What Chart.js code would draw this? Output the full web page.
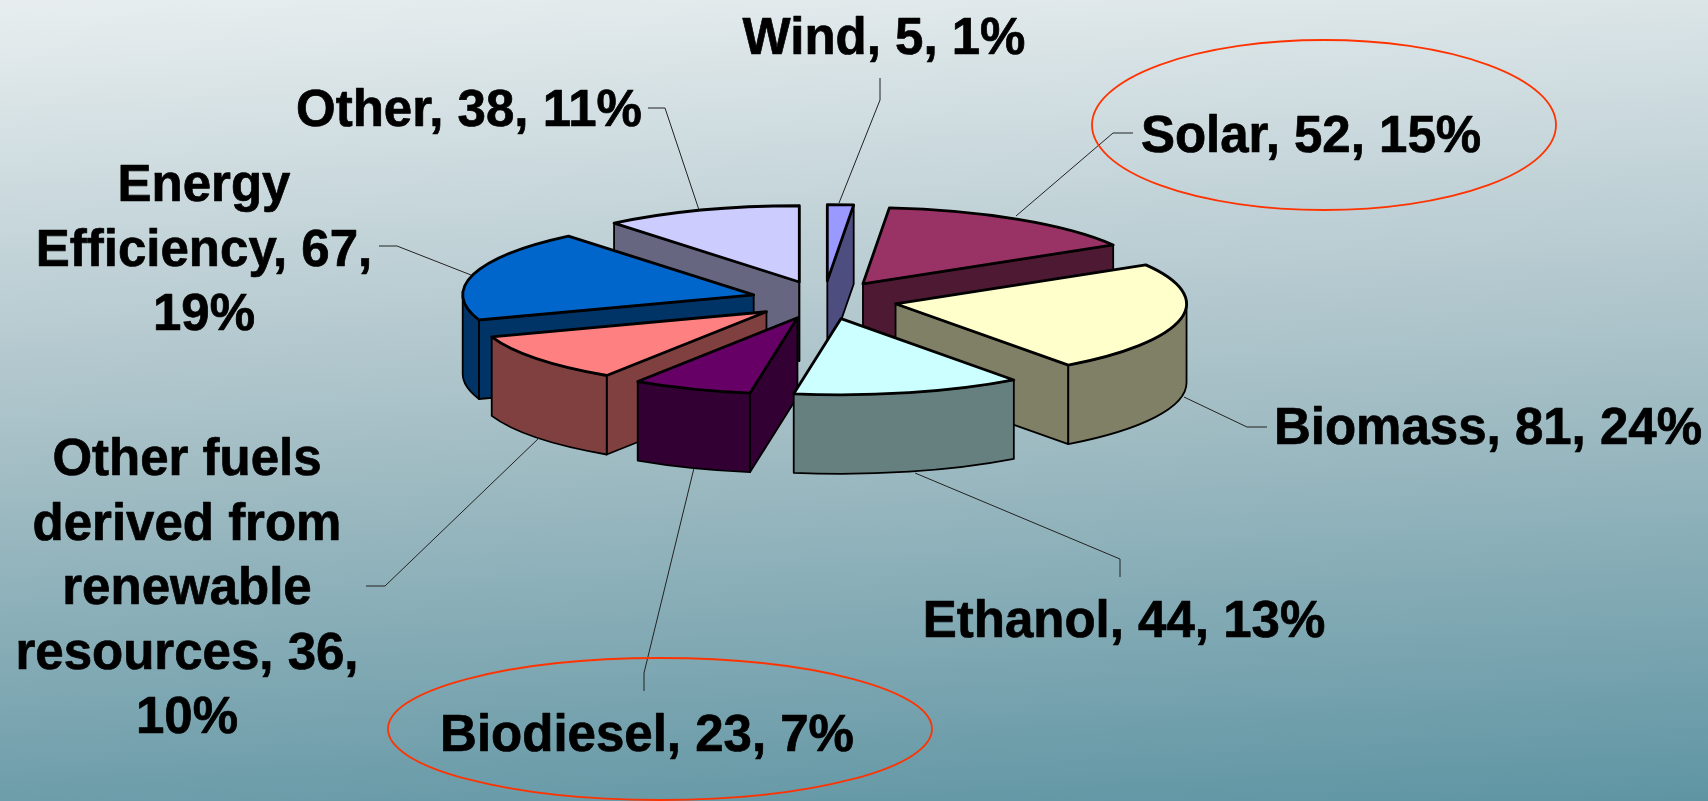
<!DOCTYPE html>
<html lang="en">

<head>
    <meta charset="UTF-8">
    <title>Renewable energy pie</title>
    <script src="https://cdn.jsdelivr.net/npm/chart.js@4.4.0/dist/chart.umd.min.js"></script>
    <style>
        html, body { margin: 0; padding: 0; overflow: hidden; }
        body { width: 1708px; height: 801px; background: linear-gradient(177deg, #e8eef0 0%, #a4bec5 52%, #5f95a3 100%); }
        canvas { display: block; }
    </style>
</head>

<body>

    <canvas id="chart" width="1708" height="801"></canvas>

    <script>
        const categories = ['Wind', 'Solar', 'Biomass', 'Ethanol', 'Biodiesel', 'Other fuels derived from renewable resources', 'Energy Efficiency', 'Other'];
        const values = [5, 52, 81, 44, 23, 36, 67, 38];
        const percents = [1, 15, 24, 13, 7, 10, 19, 11];
        const labelLines = [
            ['Wind, 5, 1%'],
            ['Solar, 52, 15%'],
            ['Biomass, 81, 24%'],
            ['Ethanol, 44, 13%'],
            ['Biodiesel, 23, 7%'],
            ['Other fuels', 'derived from', 'renewable', 'resources, 36,', '10%'],
            ['Energy', 'Efficiency, 67,', '19%'],
            ['Other, 38, 11%']
        ];

        const topColors = ['#9999FF', '#993366', '#FFFFCC', '#CCFFFF', '#660066', '#FF8080', '#0066CC', '#CCCCFF'];
        const sideColors = ['#4D4D80', '#4D1933', '#808066', '#668080', '#330033', '#804040', '#003366', '#666680'];

        // where the flattened pie sits on the page
        const pieX = 824, pieY = 300, pieRadius = 291, squash = 0.262, explode = 73, depth = 79;

        // x centre and first baseline of each label
        const labelPos = [[884, 54], [1311, 152], [1488, 444], [1124, 637], [647, 751], [187, 475], [204, 201], [469, 126]];
        const labelStep = 64.5;

        // leader polylines, label end first
        const leaders = [
            [[880, 78], [880, 100], [839, 203]],
            [[1133, 133], [1113, 133], [1016, 216]],
            [[1267, 427], [1247, 427], [1184, 397]],
            [[1120, 577], [1120, 559], [915, 473]],
            [[644, 691], [644, 673], [694, 468]],
            [[366, 586], [385, 586], [539, 438]],
            [[379, 246], [397, 246], [471, 275]],
            [[648, 108], [665, 108], [699, 210]]
        ];

        const rings = [[1324, 125, 232, 85], [660, 729, 272, 71]];

        function apexOf(arc) {
            const mid = (arc.startAngle + arc.endAngle) / 2;
            return { x: pieX + Math.cos(mid) * explode, y: pieY + Math.sin(mid) * explode * squash };
        }

        function pointOn(apex, angle) {
            return { x: apex.x + Math.cos(angle) * pieRadius, y: apex.y + Math.sin(angle) * pieRadius * squash };
        }

        function paintFace(ctx, path, color) {
            ctx.beginPath();
            path();
            ctx.closePath();
            ctx.fillStyle = color;
            ctx.fill();
            ctx.lineWidth = 1.8;
            ctx.strokeStyle = '#000';
            ctx.lineJoin = 'round';
            ctx.stroke();
        }

        function radialFace(ctx, apex, angle, color) {
            const p = pointOn(apex, angle);
            paintFace(ctx, () => {
                ctx.moveTo(apex.x, apex.y);
                ctx.lineTo(p.x, p.y);
                ctx.lineTo(p.x, p.y + depth);
                ctx.lineTo(apex.x, apex.y + depth);
            }, color);
        }

        function drawSlice(ctx, arc, i) {
            const a = arc.startAngle, b = arc.endAngle;
            const apex = apexOf(arc);
            const ry = pieRadius * squash;

            if (-Math.cos(a) > 0) radialFace(ctx, apex, a, sideColors[i]);
            if (Math.cos(b) > 0) radialFace(ctx, apex, b, sideColors[i]);

            const lo = Math.max(a, 0), hi = Math.min(b, Math.PI);
            if (hi > lo) {
                paintFace(ctx, () => {
                    ctx.ellipse(apex.x, apex.y, pieRadius, ry, 0, lo, hi);
                    ctx.ellipse(apex.x, apex.y + depth, pieRadius, ry, 0, hi, lo, true);
                }, sideColors[i]);
            }

            // top face is the library's own arc, just flattened
            ctx.save();
            ctx.translate(apex.x, apex.y);
            ctx.scale(1, squash);
            ctx.translate(-arc.x, -arc.y);
            arc.draw(ctx);
            ctx.restore();

            ctx.beginPath();
            ctx.moveTo(apex.x, apex.y);
            ctx.ellipse(apex.x, apex.y, pieRadius, ry, 0, a, b);
            ctx.closePath();
            ctx.lineWidth = 2.8;
            ctx.lineJoin = 'round';
            ctx.strokeStyle = '#000';
            ctx.stroke();
        }

        const pie3d = {
            id: 'pie3d',
            beforeDatasetDraw(chart, args) {
                const ctx = chart.ctx;
                const arcs = args.meta.data.map((arc, i) => ({ arc, i }));
                // back to front
                arcs.sort((p, q) => Math.sin((p.arc.startAngle + p.arc.endAngle) / 2) - Math.sin((q.arc.startAngle + q.arc.endAngle) / 2));
                arcs.forEach(({ arc, i }) => drawSlice(ctx, arc, i));
                return false;
            },
            afterDraw(chart) {
                const ctx = chart.ctx;
                ctx.save();

                ctx.strokeStyle = '#222';
                ctx.lineWidth = 1;
                leaders.forEach(line => {
                    ctx.beginPath();
                    line.forEach((p, n) => n ? ctx.lineTo(p[0], p[1]) : ctx.moveTo(p[0], p[1]));
                    ctx.stroke();
                });

                ctx.strokeStyle = '#FF3300';
                ctx.lineWidth = 1.8;
                rings.forEach(r => {
                    ctx.beginPath();
                    ctx.ellipse(r[0], r[1], r[2], r[3], 0, 0, Math.PI * 2);
                    ctx.stroke();
                });

                // the original lettering is a touch heavier than plain bold
                ctx.fillStyle = '#000';
                ctx.strokeStyle = '#000';
                ctx.lineWidth = 0.7;
                ctx.font = 'bold 51px "Liberation Sans"';
                ctx.textAlign = 'center';
                ctx.textBaseline = 'alphabetic';
                labelLines.forEach((lines, i) => {
                    lines.forEach((line, n) => {
                        ctx.fillText(line, labelPos[i][0], labelPos[i][1] + n * labelStep);
                        ctx.strokeText(line, labelPos[i][0], labelPos[i][1] + n * labelStep);
                    });
                });
                ctx.restore();
            }
        };

        new Chart(document.getElementById('chart').getContext('2d'), {
            type: 'pie',
            data: {
                labels: categories,
                datasets: [{ data: values, backgroundColor: topColors, borderWidth: 0 }]
            },
            options: {
                responsive: false,
                animation: false,
                radius: pieRadius,
                plugins: { legend: { display: false }, tooltip: { enabled: false } }
            },
            plugins: [pie3d]
        });
    </script>
</body>

</html>
